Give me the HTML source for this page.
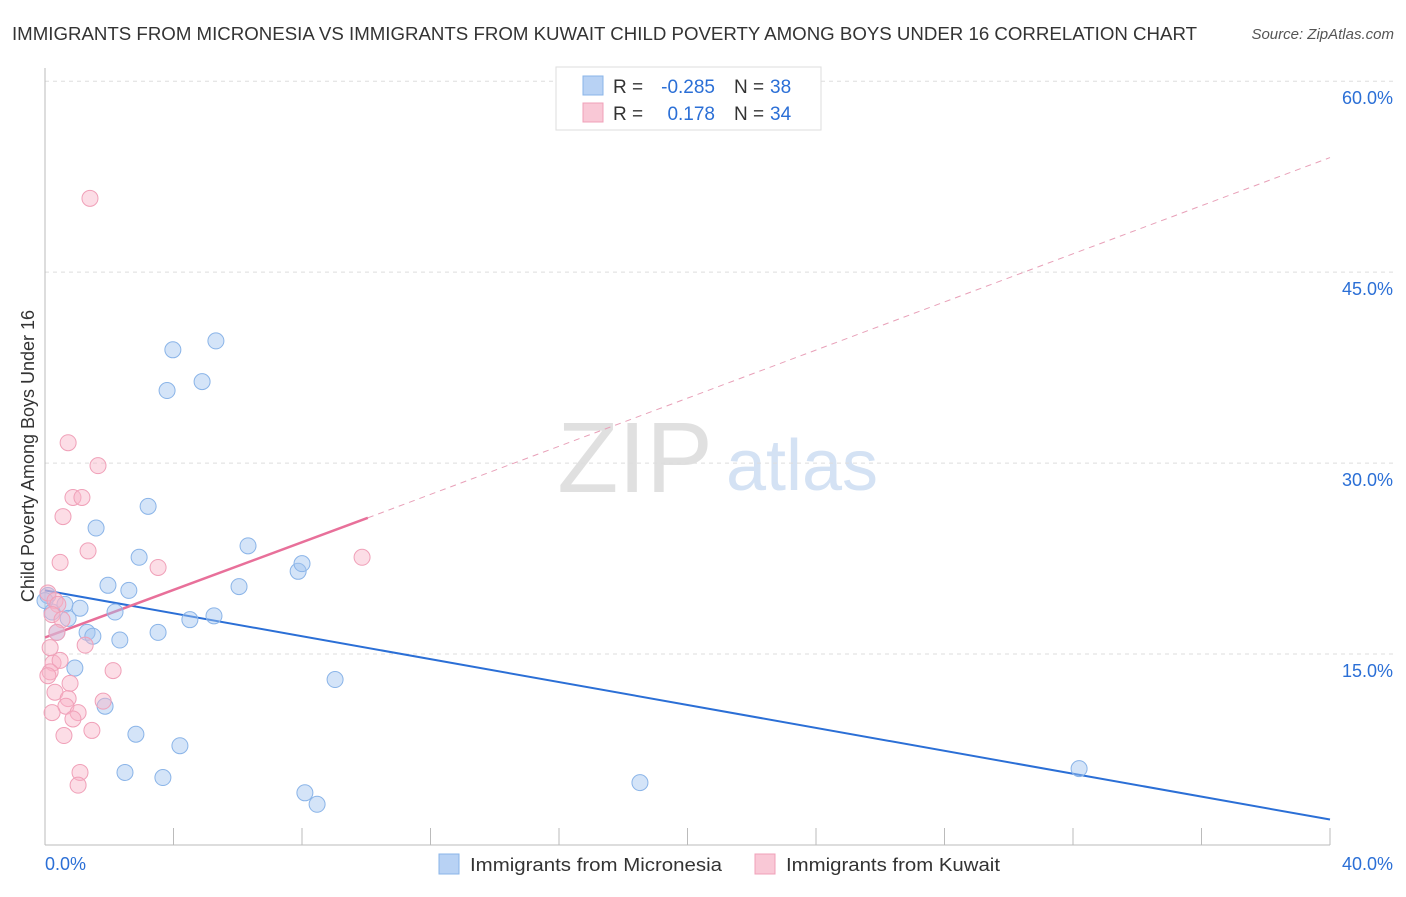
<!DOCTYPE html>
<html><head><meta charset="utf-8"><style>
body{margin:0;background:#fff;font-family:"Liberation Sans",sans-serif;}
svg text{font-family:"Liberation Sans",sans-serif;}
</style></head><body>
<svg id="chart" width="1406" height="892" viewBox="0 0 1406 892" xmlns="http://www.w3.org/2000/svg">
<text x="12" y="40" font-size="18" fill="#333" textLength="1185" lengthAdjust="spacingAndGlyphs">IMMIGRANTS FROM MICRONESIA VS IMMIGRANTS FROM KUWAIT CHILD POVERTY AMONG BOYS UNDER 16 CORRELATION CHART</text>
<text x="1394" y="39" font-size="15" fill="#555" text-anchor="end" font-style="italic">Source: ZipAtlas.com</text>
<g>
<text x="635" y="492" font-size="100" font-family="Liberation Serif,serif" fill="#e0e0e0" text-anchor="middle">ZIP</text>
<text x="802" y="490" font-size="72" fill="#d4e2f4" text-anchor="middle">atlas</text>
</g>
<g id="grid"></g>
<g id="axes"></g>
<g id="lines"></g>
<g id="points"></g>
<text transform="translate(34,456) rotate(-90)" font-size="18" fill="#333" text-anchor="middle">Child Poverty Among Boys Under 16</text>
<g>
<rect x="556" y="67" width="265" height="63" fill="#fff" stroke="#ddd"/>
<rect x="583" y="76" width="20" height="19" fill="#b8d2f4" stroke="#8ab4e8"/>
<rect x="583" y="103" width="20" height="19" fill="#f9c8d6" stroke="#f0a0b8"/>
<text x="613" y="93" font-size="19" fill="#333">R =</text>
<text x="715" y="93" font-size="19" fill="#2b6fd6" text-anchor="end">-0.285</text>
<text x="734" y="93" font-size="19" fill="#333">N =</text>
<text x="770" y="93" font-size="19" fill="#2b6fd6">38</text>
<text x="613" y="120" font-size="19" fill="#333">R =</text>
<text x="715" y="120" font-size="19" fill="#2b6fd6" text-anchor="end">0.178</text>
<text x="734" y="120" font-size="19" fill="#333">N =</text>
<text x="770" y="120" font-size="19" fill="#2b6fd6">34</text>
</g>
<g>
<rect x="439" y="854" width="20" height="20" fill="#b8d2f4" stroke="#8ab4e8"/>
<text x="470" y="871" font-size="18" fill="#333" textLength="252" lengthAdjust="spacingAndGlyphs">Immigrants from Micronesia</text>
<rect x="755" y="854" width="20" height="20" fill="#f9c8d6" stroke="#f0a0b8"/>
<text x="786" y="871" font-size="18" fill="#333" textLength="214" lengthAdjust="spacingAndGlyphs">Immigrants from Kuwait</text>
</g>
</svg>
<script>
const yTicks=[15,30,45,60];
const yTickLabels=["15.0%","30.0%","45.0%","60.0%"];
const xTicks=[0,4,8,12,16,20,24,28,32,36,40];
const blueX=[0.09,0.22,0.37,0.62,0.72,0.93,1.09,1.31,1.49,1.59,1.87,1.96,2.18,2.33,2.49,2.61,2.83,2.93,3.21,3.52,3.67,3.80,3.98,4.20,4.51,4.89,5.26,5.32,6.04,6.32,7.88,8.00,8.09,8.47,9.03,18.52,32.19,0.0];
const blueY=[19.6,18.3,16.7,18.9,17.8,13.9,18.6,16.7,16.4,24.9,10.9,20.4,18.3,16.1,5.7,20.0,8.7,22.6,26.6,16.7,5.3,35.7,38.9,7.8,17.7,36.4,18.0,39.6,20.3,23.5,21.5,22.1,4.1,3.2,13.0,4.9,6.0,19.2];
const pinkX=[1.40,0.72,1.65,0.87,1.15,0.56,0.47,1.34,3.52,9.87,0.09,0.31,0.40,0.22,0.53,0.37,1.25,0.16,0.25,0.47,0.16,0.09,2.12,0.78,0.31,0.72,1.81,0.65,1.03,0.22,0.87,1.46,0.59,1.09,1.03];
const pinkY=[50.8,31.6,29.8,27.3,27.3,25.8,22.2,23.1,21.8,22.6,19.8,19.2,18.9,18.1,17.7,16.7,15.7,15.5,14.3,14.5,13.6,13.3,13.7,12.7,12.0,11.5,11.3,10.9,10.4,10.4,9.9,9.0,8.6,5.7,4.7];
const blueTrend=[[0,20.0],[40,2.0]];
const pinkTrend=[[0,16.3],[10.05,25.7]];
const pinkDash=[[10.05,25.7],[40,54.0]];
const NS="http://www.w3.org/2000/svg";
const X=v=>45+v*32.125, Y=v=>845-v*12.73;
function mk(tag,attrs,parent){const e=document.createElementNS(NS,tag);for(const k in attrs)e.setAttribute(k,attrs[k]);document.getElementById(parent).appendChild(e);return e;}
yTicks.forEach((t,i)=>{
 const g=mk('line',{x1:45,x2:1394,y1:Y(t),y2:Y(t),stroke:'#ddd','stroke-dasharray':'4,4'},'grid');
 
 
 const l=mk('text',{x:1393,y:Y(t)+23,'font-size':18,fill:'#2b6fd6','text-anchor':'end'},'axes');
 l.textContent=yTickLabels[i];
 
 
});
const ax=mk('line',{x1:45,x2:1330,y1:845,y2:845,stroke:'#bbb'},'axes');


const ay=mk('line',{x1:45,x2:45,y1:68,y2:845,stroke:'#bbb'},'axes');


xTicks.forEach(t=>{
 const k=mk('line',{x1:X(t),x2:X(t),y1:828,y2:845,stroke:'#bbb'},'axes');
 
 
});
[["0.0%",45,'start'],["40.0%",1393,'end']].forEach(a=>{
 const l=mk('text',{x:a[1],y:870,'font-size':18,fill:'#2b6fd6','text-anchor':a[2]},'axes');
 l.textContent=a[0];
 
 
});
function line(p,stroke,w,dash,name){
 const l=mk('line',{x1:X(p[0][0]),y1:Y(p[0][1]),x2:X(p[1][0]),y2:Y(p[1][1]),stroke:stroke,'stroke-width':w},'lines');
 if(dash)l.setAttribute('stroke-dasharray',dash);
 
 
}
line(pinkDash,'#e8a0b8',1,'6,5','kuwait-trend-extension');
line(blueTrend,'#2b6fd6',2,null,'micronesia-trend-line');
line(pinkTrend,'#e8709a',2.5,null,'kuwait-trend-line');
blueX.forEach((x,i)=>{
 const c=mk('circle',{cx:X(x),cy:Y(blueY[i]),r:8,fill:'rgba(160,196,240,0.45)',stroke:'#8ab4e8','stroke-width':1},'points');
 
 
});
pinkX.forEach((x,i)=>{
 const c=mk('circle',{cx:X(x),cy:Y(pinkY[i]),r:8,fill:'rgba(248,180,200,0.45)',stroke:'#f0a0b8','stroke-width':1},'points');
 
 
});
</script>
</body></html>
